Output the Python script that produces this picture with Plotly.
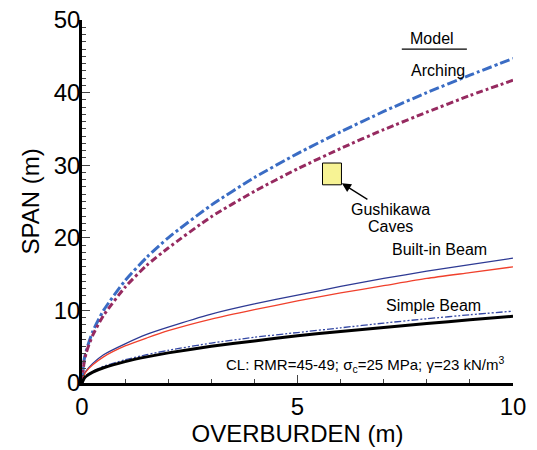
import plotly.graph_objects as go

overburden = [0, 0.05, 0.1, 0.25, 0.5, 1, 1.5, 2, 3, 4, 5, 6, 7, 8, 9, 10]
arching_upper = [0, 3.2, 4.5, 7.1, 10.0, 14.1, 17.3, 20.0, 24.5, 28.3, 31.6, 34.6, 37.4, 40.0, 42.4, 44.7]
arching_lower = [0, 2.9, 4.2, 6.6, 9.3, 13.2, 16.2, 18.6, 22.9, 26.4, 29.5, 32.3, 34.9, 37.3, 39.6, 41.7]
builtin_upper = [0, 1.2, 1.7, 2.7, 3.9, 5.4, 6.7, 7.7, 9.5, 10.9, 12.1, 13.3, 14.4, 15.4, 16.3, 17.2]
builtin_lower = [0, 1.1, 1.6, 2.5, 3.6, 5.1, 6.2, 7.2, 8.8, 10.1, 11.3, 12.4, 13.4, 14.4, 15.2, 16.0]
simple_upper = [0, 0.7, 1.0, 1.6, 2.3, 3.2, 3.9, 4.5, 5.5, 6.3, 6.95, 7.6, 8.25, 8.85, 9.4, 9.9]
simple_lower = [0, 0.65, 0.95, 1.5, 2.1, 2.95, 3.6, 4.15, 5.05, 5.8, 6.5, 7.1, 7.65, 8.2, 8.7, 9.2]

cave_x = [5.58, 6.02]
cave_y = [27.3, 30.3]

FONT = "Liberation Sans, Arial, sans-serif"

fig = go.Figure()

series = [
    (arching_upper, "#3a6cc4", 3, "10px,3px,3px,3px"),
    (arching_lower, "#962a60", 3, "7px,3px,3px,3px"),
    (builtin_upper, "#2e3a94", 1.3, "solid"),
    (builtin_lower, "#f0402c", 1.3, "solid"),
    (simple_upper, "#3448a4", 1.3, "7px,2px,2px,2px,2px,2px"),
    (simple_lower, "#000000", 3, "solid"),
]
for ys, col, w, dash in series:
    fig.add_trace(go.Scatter(x=overburden, y=ys, mode="lines",
                             line=dict(color=col, width=w, dash=dash, shape="spline", smoothing=0.6),
                             showlegend=False, hoverinfo="skip"))

fig.add_shape(type="rect", x0=cave_x[0], x1=cave_x[1], y0=cave_y[0], y1=cave_y[1],
              line=dict(color="black", width=1), fillcolor="#f7f394")
fig.add_shape(type="line", x0=7.42, x1=8.93, y0=46.0, y1=46.0, line=dict(color="black", width=1.2))

def txt(x, y, t, size=16):
    fig.add_annotation(x=x, y=y, text=t, showarrow=False, font=dict(family=FONT, size=size, color="black"),
                       xanchor="center", yanchor="middle")

txt(8.12, 47.5, "Model")
txt(8.25, 43.0, "Arching")
txt(7.15, 23.9, "Gushikawa")
txt(7.15, 21.5, "Caves")
txt(8.29, 18.4, "Built-in Beam")
txt(8.15, 10.7, "Simple Beam")
txt(6.57, 2.5, "CL: RMR=45-49; σ<sub>c</sub>=25 MPa; γ=23 kN/m<sup>3</sup>", size=15)

fig.add_annotation(x=6.03, y=27.5, ax=27, ay=17, text="", showarrow=True,
                   arrowhead=2, arrowsize=1.4, arrowwidth=1.3, arrowcolor="black", standoff=0)

fig.update_xaxes(range=[0, 10], tickvals=[0, 5, 10], ticks="inside", ticklen=8, tickwidth=1.2,
                 minor=dict(dtick=1, tick0=0, ticks="inside", ticklen=4, tickwidth=1.2),
                 showline=True, linewidth=2.5, linecolor="black", showgrid=False, zeroline=False,
                 automargin=False, ticklabeloverflow="allow",
                 tickfont=dict(family=FONT, size=24, color="black"),
                 title=dict(text="OVERBURDEN (m)", font=dict(family=FONT, size=24, color="black"), standoff=5))
fig.update_yaxes(range=[0, 50], tickvals=[0, 10, 20, 30, 40, 50], ticks="inside", ticklen=8, tickwidth=1.2,
                 minor=dict(dtick=1, tick0=0, ticks="inside", ticklen=4, tickwidth=1.2),
                 showline=True, linewidth=2.5, linecolor="black", showgrid=False, zeroline=False,
                 automargin=False, ticklabelstandoff=-6, ticklabeloverflow="allow",
                 tickfont=dict(family=FONT, size=24, color="black"),
                 title=dict(text="SPAN (m)", font=dict(family=FONT, size=24, color="black"), standoff=8))

# page body has an 8px default margin; compensate so the plot lands where the reference has it
fig.update_layout(width=529, height=442, margin=dict(l=74, r=24, t=12, b=67),
                  plot_bgcolor="white", paper_bgcolor="white", font=dict(family=FONT))

fig.write_html("out.html")
